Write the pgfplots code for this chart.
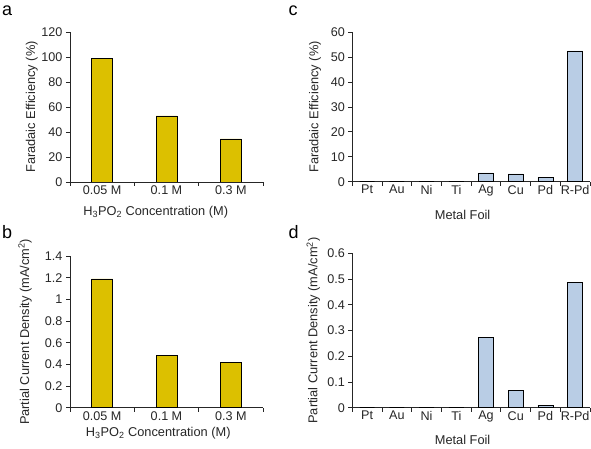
\documentclass[border=0pt]{standalone}
\usepackage{fontspec}
\setmainfont{Liberation Sans}
\usepackage{pgfplots}
\pgfplotsset{compat=1.18}
\definecolor{ybar}{RGB}{220,192,0}
\definecolor{bbar}{RGB}{185,205,229}
\pgfplotsset{
  panel/.style={
    scale only axis, anchor=south west,
    axis lines=left, axis line style={-, black!85, line width=0.8pt},
    tick align=outside, tick pos=left,
    major tick length=4pt,
    tick style={black!85, line width=0.8pt},
    ymin=0,
    /pgf/number format/assume math mode=true,
    every tick label/.append style={font=\fontsize{12.6}{14}\selectfont, text=black!85},
    label style={font=\fontsize{12.8}{14}\selectfont, text=black!85},
    xticklabels={},
    extra x tick style={major tick length=0pt},
    ytick style={black!85},
  },
  yb/.style={ybar, bar width=21pt, bar shift=0pt, fill=ybar, draw=black, line width=0.8pt},
  bb/.style={ybar, bar width=15pt, bar shift=0pt, fill=bbar, draw=black, line width=0.8pt},
}
\begin{document}
\begin{tikzpicture}
\useasboundingbox (0,0) rectangle (591pt,449pt);
% panel a
\begin{axis}[panel, at={(70pt,267pt)}, width=193pt, height=150pt,
  xmin=-0.5, xmax=2.5, ymax=120, ytick={0,20,40,60,80,100,120},
  xtick={-0.5,0.5,1.5,2.5},
  extra x ticks={0,1,2}, extra x tick labels={0.05 M,0.1 M,0.3 M},
  xlabel={H\textsubscript{3}PO\textsubscript{2} Concentration (M)},
  ylabel={Faradaic Efficiency (\%)},
  xlabel style={at={(axis description cs:0.444,-0.2)}, anchor=center},
  ylabel style={at={(axis description cs:-0.198,0.5)}, anchor=center}]
\addplot[yb] coordinates {(0,98.8) (1,52.8) (2,34.4)};
\end{axis}
% panel b
\begin{axis}[panel, at={(70pt,41.3pt)}, width=193pt, height=151.7pt,
  xmin=-0.5, xmax=2.5, ymax=1.4, ytick={0,0.2,0.4,0.6,0.8,1,1.2,1.4},
  xtick={-0.5,0.5,1.5,2.5},
  extra x ticks={0,1,2}, extra x tick labels={0.05 M,0.1 M,0.3 M},
  xlabel={H\textsubscript{3}PO\textsubscript{2} Concentration (M)},
  ylabel={Partial Current Density (mA/cm\textsuperscript{2})},
  xlabel style={at={(axis description cs:0.457,-0.17)}, anchor=center},
  ylabel style={at={(axis description cs:-0.233,0.5)}, anchor=center}]
\addplot[yb] coordinates {(0,1.188) (1,0.483) (2,0.415)};
\end{axis}
% panel c
\begin{axis}[panel, at={(352.3pt,267.3pt)}, width=237.7pt, height=149.4pt,
  xmin=-0.5, xmax=7.5, ymax=60, ytick={0,10,20,30,40,50,60},
  xtick={-0.5,0.5,1.5,2.5,3.5,4.5,5.5,6.5,7.5},
  extra x ticks={0,1,2,3,4,5,6,7}, extra x tick labels={Pt,Au,Ni,Ti,Ag,Cu,Pd,R-Pd},
  xlabel={Metal Foil},
  ylabel={Faradaic Efficiency (\%)},
  xlabel style={at={(axis description cs:0.464,-0.22)}, anchor=center},
  ylabel style={at={(axis description cs:-0.157,0.5)}, anchor=center}]
\addplot[bb] coordinates {(0,0) (1,0) (2,0) (3,0) (4,3.5) (5,3.1) (6,1.7) (7,52.5)};
\end{axis}
% panel d
\begin{axis}[panel, at={(352.3pt,41.3pt)}, width=237.7pt, height=154.3pt,
  xmin=-0.5, xmax=7.5, ymax=0.6, ytick={0,0.1,0.2,0.3,0.4,0.5,0.6},
  xtick={-0.5,0.5,1.5,2.5,3.5,4.5,5.5,6.5,7.5},
  extra x ticks={0,1,2,3,4,5,6,7}, extra x tick labels={Pt,Au,Ni,Ti,Ag,Cu,Pd,R-Pd},
  xlabel={Metal Foil},
  ylabel={Partial Current Density (mA/cm\textsuperscript{2})},
  xlabel style={at={(axis description cs:0.464,-0.21)}, anchor=center},
  ylabel style={at={(axis description cs:-0.164,0.5)}, anchor=center}]
\addplot[bb] coordinates {(0,0) (1,0) (2,0) (3,0) (4,0.273) (5,0.066) (6,0.010) (7,0.486)};
\end{axis}
\node[anchor=base west, inner sep=0pt, font=\fontsize{18}{20}\selectfont] at (2pt,433.5pt) {a};
\node[anchor=base west, inner sep=0pt, font=\fontsize{18}{20}\selectfont] at (288.3pt,433.5pt) {c};
\node[anchor=base west, inner sep=0pt, font=\fontsize{18}{20}\selectfont] at (2pt,210.7pt) {b};
\node[anchor=base west, inner sep=0pt, font=\fontsize{18}{20}\selectfont] at (288.3pt,210.7pt) {d};
\end{tikzpicture}
\end{document}
